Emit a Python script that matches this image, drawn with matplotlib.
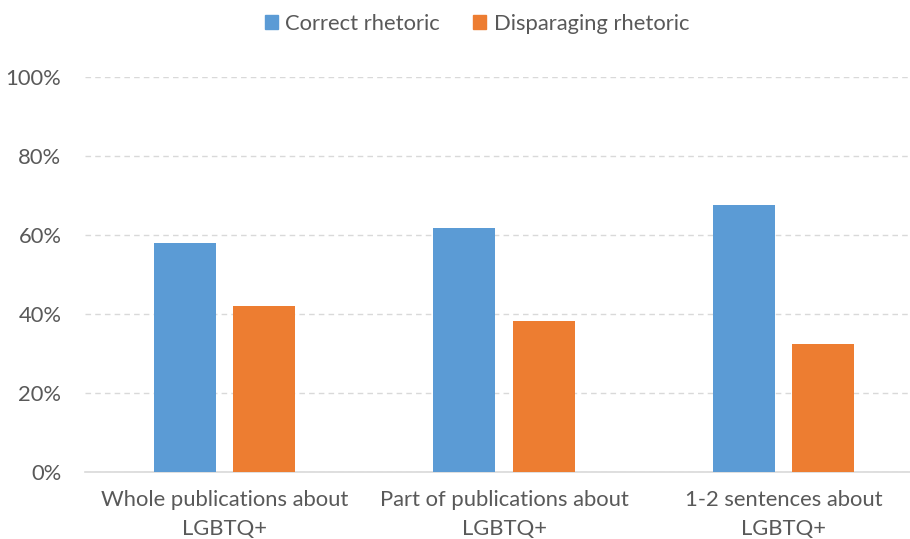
import matplotlib.pyplot as plt
from matplotlib.patches import Patch
from matplotlib.ticker import PercentFormatter
import numpy as np

categories = ["Whole publications about\nLGBTQ+",
              "Part of publications about\nLGBTQ+",
              "1-2 sentences about\nLGBTQ+"]
series_names = ["Correct rhetoric", "Disparaging rhetoric"]
correct = [58.1, 61.8, 67.7]
disparaging = [41.9, 38.2, 32.3]
colors = ["#5b9bd5", "#ed7d31"]

plt.rcParams['font.family'] = ['Lato', 'DejaVu Sans']
text_color = "#595959"
fs = 15.8

fig = plt.figure(figsize=(9.1, 5.39), dpi=100)
# plot area runs slightly past the right edge, like the cropped original
ax = fig.add_axes([85 / 910, (539 - 471.7) / 539, 838 / 910, 394.4 / 539])

x = np.arange(len(categories))
width = 0.223
off = 0.142
ax.bar(x - off, correct, width, color=colors[0], zorder=3)
ax.bar(x + off, disparaging, width, color=colors[1], zorder=3)

ax.set_xlim(-0.5, 2.5)
ax.set_ylim(0, 100)
ax.set_yticks(np.arange(0, 101, 20))
ax.yaxis.set_major_formatter(PercentFormatter(decimals=0))
ax.set_xticks(x)
ax.set_xticklabels(categories)

ax.grid(axis='y', color="#d9d9d9", linestyle=(0, (4, 3)), linewidth=1, zorder=0)
for s in ['top', 'right', 'left']:
    ax.spines[s].set_visible(False)
ax.spines['bottom'].set_color("#d9d9d9")
ax.spines['bottom'].set_linewidth(1.2)

ax.tick_params(axis='y', length=0, pad=17, labelsize=fs, labelcolor=text_color)
ax.tick_params(axis='x', length=0, pad=13, labelsize=fs, labelcolor=text_color)
for lbl in ax.get_xticklabels():
    lbl.set_linespacing(1.55)

handles = [Patch(color=c) for c in colors]
fig.legend(handles, series_names, loc='center', bbox_to_anchor=(477 / 910, 1 - 24 / 539),
           ncol=2, frameon=False, fontsize=fs, labelcolor=text_color,
           handlelength=0.6, handleheight=0.6, handletextpad=0.35, columnspacing=1.5)

fig.savefig("out.png", dpi=100, facecolor='white')
